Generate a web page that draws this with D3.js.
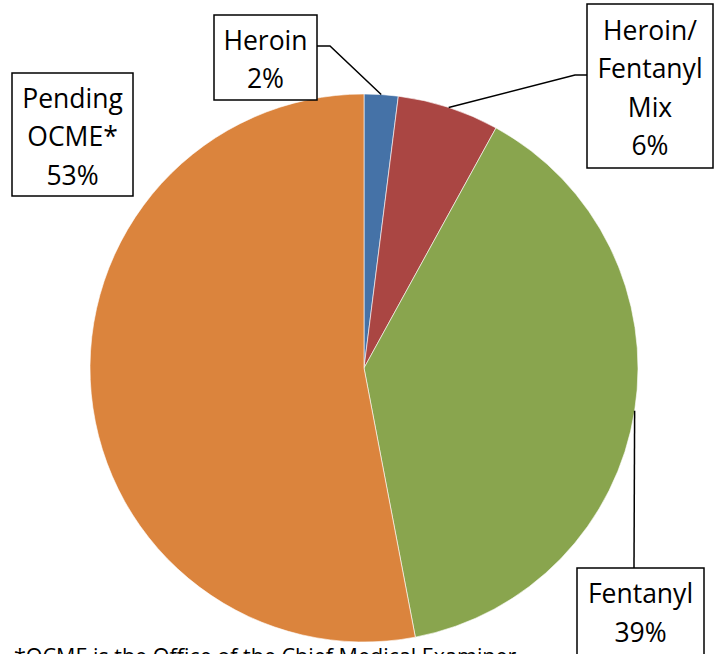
<!DOCTYPE html>
<html>
<head>
<meta charset="utf-8">
<script src="https://cdn.jsdelivr.net/npm/d3@7"></script>
<style>
    body { margin: 0; background: #fff; }
    text { font-family: "Open Sans", "Noto Sans", sans-serif; fill: #000; }
</style>
</head>
<body>
<div id="chart"></div>
<script>
const w = 720;
const h = 654;

// data (percent of total)
const categories = ["Heroin", "Heroin/Fentanyl Mix", "Fentanyl", "Pending OCME*"];
const values = [2, 6, 39, 53];
const labelLines = [
    ["Heroin", "2%"],
    ["Heroin/", "Fentanyl", "Mix", "6%"],
    ["Fentanyl", "39%"],
    ["Pending", "OCME*", "53%"]
];
const colors = ["#4572A7", "#AA4643", "#89A54E", "#DB843D"];

// label boxes: x, y, width, height, and the elbow of the leader line
const boxes = [
    { x: 214, y: 15, w: 103, h: 85, elbow: [330, 46], from: [317, 46] },
    { x: 587, y: 4, w: 126, h: 164, elbow: [575, 75], from: [587, 75] },
    { x: 577, y: 568, w: 127, h: 100, elbow: null, from: [634, 568] },
    { x: 12, y: 73, w: 121, h: 123, elbow: null, from: null }
];

const cx = 364, cy = 368, radius = 274;
const lineH = 38.5;

const svg = d3.select("#chart")
    .append("svg")
    .attr("width", w)
    .attr("height", h);

const pie = d3.pie().sort(null).value(d => d);
const arcs = pie(values);

const arc = d3.arc().innerRadius(0).outerRadius(radius);

const g = svg.append("g")
    .attr("transform", "translate(" + cx + "," + cy + ")");

g.selectAll("path")
    .data(arcs)
    .enter()
    .append("path")
    .attr("d", arc)
    .style("fill", (d, i) => colors[i])
    .style("stroke", "#fff")
    .style("stroke-width", 0.6);

// leader lines from the middle of each slice's outer edge
arcs.forEach(function(d, i) {
    let b = boxes[i];
    if (!b.from) return;
    let mid = (d.startAngle + d.endAngle) / 2;
    let px = cx + radius * Math.sin(mid);
    let py = cy - radius * Math.cos(mid);
    let pts = [[px, py]];
    if (b.elbow) pts.push(b.elbow);
    pts.push(b.from);
    svg.append("path")
        .attr("d", d3.line()(pts))
        .style("fill", "none")
        .style("stroke", "#000")
        .style("stroke-width", 1.5);
});

// label boxes
boxes.forEach(function(b, i) {
    svg.append("rect")
        .attr("x", b.x)
        .attr("y", b.y)
        .attr("width", b.w)
        .attr("height", b.h)
        .style("fill", "#fff")
        .style("stroke", "#000")
        .style("stroke-width", 1.5);

    let lines = labelLines[i];
    let n = lines.length;
    lines.forEach(function(t, j) {
        let y = b.y + b.h / 2 + (j - (n - 1) / 2) * lineH + 11.5;
        if (i === 2) y = b.y + 35 + j * lineH;
        svg.append("text")
            .attr("x", b.x + b.w / 2)
            .attr("y", y)
            .attr("text-anchor", "middle")
            .style("font-size", "26.5px")
            .text(t);
    });
});

svg.append("text")
    .attr("x", 14)
    .attr("y", 664)
    .style("font-size", "21.5px")
    .text("*OCME is the Office of the Chief Medical Examiner");
</script>
</body>
</html>
